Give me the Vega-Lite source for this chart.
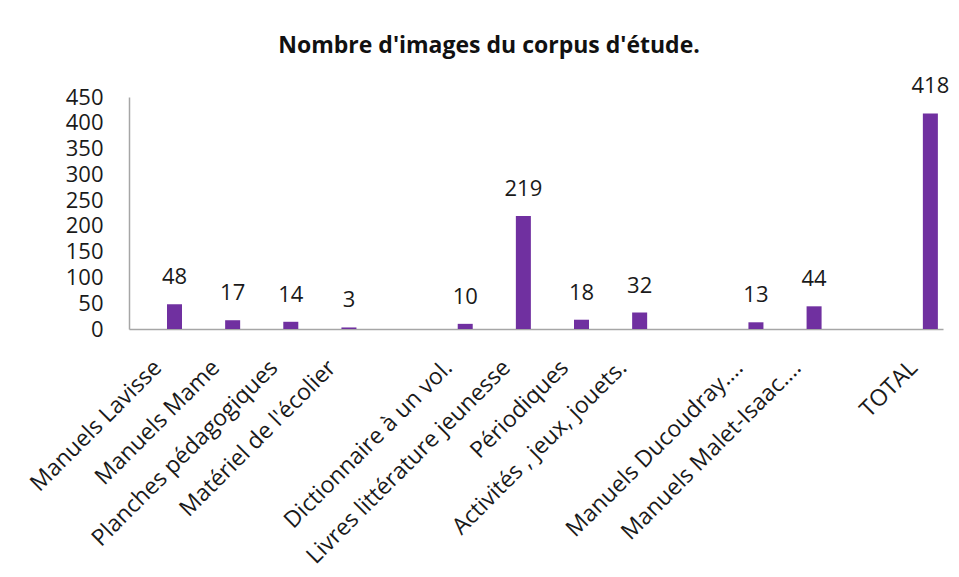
{
  "$schema": "https://vega.github.io/schema/vega-lite/v6.json",
  "autosize": {"type": "none"},
  "width": 814,
  "height": 232,
  "padding": {"left": 129, "top": 97, "right": 16, "bottom": 248},
  "background": "white",
  "title": {
    "text": "Nombre d'images du corpus d'étude.",
    "font": "Open Sans",
    "fontSize": 23,
    "fontWeight": "bold",
    "color": "#111111",
    "anchor": "middle",
    "dx": -47,
    "offset": 17
  },
  "data": {
    "values": [
      {"categorie": "Manuels Lavisse", "serie": "b", "images": 48},
      {"categorie": "Manuels Mame", "serie": "b", "images": 17},
      {"categorie": "Planches pédagogiques", "serie": "b", "images": 14},
      {"categorie": "Matériel de l'écolier", "serie": "b", "images": 3},
      {"categorie": " ", "serie": "b", "images": null},
      {"categorie": "Dictionnaire à un vol.", "serie": "b", "images": 10},
      {"categorie": "Livres littérature jeunesse", "serie": "b", "images": 219},
      {"categorie": "Périodiques", "serie": "b", "images": 18},
      {"categorie": "Activités , jeux, jouets.", "serie": "b", "images": 32},
      {"categorie": "  ", "serie": "b", "images": null},
      {"categorie": "Manuels Ducoudray….", "serie": "b", "images": 13},
      {"categorie": "Manuels Malet-Isaac….", "serie": "b", "images": 44},
      {"categorie": "   ", "serie": "b", "images": null},
      {"categorie": "TOTAL", "serie": "b", "images": 418}
    ]
  },
  "encoding": {
    "x": {
      "field": "categorie",
      "type": "nominal",
      "sort": null,
      "scale": {
        "domain": ["Manuels Lavisse", "Manuels Mame", "Planches pédagogiques", "Matériel de l'écolier", " ", "Dictionnaire à un vol.", "Livres littérature jeunesse", "Périodiques", "Activités , jeux, jouets.", "  ", "Manuels Ducoudray….", "Manuels Malet-Isaac….", "   ", "TOTAL"],
        "paddingInner": 0,
        "paddingOuter": 0
      },
      "axis": {
        "title": null,
        "labelAngle": -45,
        "labelFont": "Open Sans",
        "labelFontSize": 23,
        "labelColor": "#1a1a1a",
        "labelLimit": 400,
        "labelPadding": 27,
        "labelOffset": -8,
        "labelOverlap": false,
        "ticks": false,
        "domainColor": "#a6a6a6",
        "domainWidth": 1.5,
        "grid": false
      }
    },
    "xOffset": {
      "field": "serie",
      "type": "nominal",
      "scale": {"domain": ["a", "b"], "paddingInner": 0.5435, "paddingOuter": 0.156}
    },
    "y": {
      "field": "images",
      "type": "quantitative",
      "scale": {"domain": [0, 450], "nice": false},
      "axis": {
        "title": null,
        "values": [0, 50, 100, 150, 200, 250, 300, 350, 400, 450],
        "labelFont": "Open Sans",
        "labelFontSize": 22,
        "labelColor": "#1a1a1a",
        "labelPadding": 26,
        "labelOverlap": false,
        "ticks": false,
        "grid": false,
        "domainColor": "#a6a6a6",
        "domainWidth": 1.5
      }
    }
  },
  "layer": [
    {
      "mark": {"type": "bar", "color": "#7030A0"}
    },
    {
      "mark": {
        "type": "text",
        "font": "Open Sans",
        "fontSize": 22,
        "color": "#1a1a1a",
        "baseline": "alphabetic",
        "dy": -20
      },
      "encoding": {
        "text": {"field": "images", "type": "quantitative"}
      }
    }
  ],
  "config": {
    "view": {"stroke": null}
  }
}
